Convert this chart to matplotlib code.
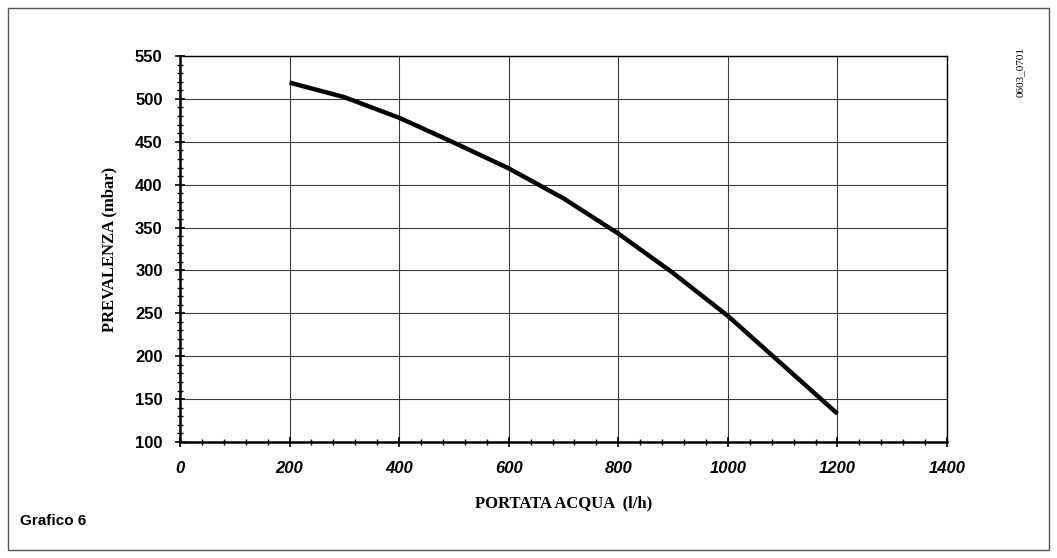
import matplotlib
matplotlib.use("Agg")
import matplotlib.pyplot as plt
from matplotlib.patches import Rectangle
from matplotlib.ticker import MultipleLocator

flow = [200, 300, 400, 500, 600, 700, 800, 900, 1000, 1100, 1200]
head = [519, 502, 478, 449, 419, 384, 343, 297, 247, 190, 133]
x_ticks = [0, 200, 400, 600, 800, 1000, 1200, 1400]
y_ticks = [100, 150, 200, 250, 300, 350, 400, 450, 500, 550]

fig = plt.figure(figsize=(10.57, 5.58), dpi=100)
ax = fig.add_axes([180/1057, 1-442/558, (947-180)/1057, (442-56)/558])

ax.plot(flow, head, color='black', lw=3.2, solid_capstyle='butt', solid_joinstyle='round', zorder=3)
ax.set_xlim(0, 1400)
ax.set_ylim(100, 550)
ax.set_xticks(x_ticks)
ax.set_yticks(y_ticks)
ax.xaxis.set_minor_locator(MultipleLocator(40))
ax.yaxis.set_minor_locator(MultipleLocator(10))
ax.grid(True, which='major', color='#3a3a3a', lw=0.8)
for s in ['left', 'bottom']:
    ax.spines[s].set_linewidth(1.8)
for s in ['top', 'right']:
    ax.spines[s].set_linewidth(1.0)
ax.tick_params(axis='both', which='major', direction='inout', length=7, width=1.2)
ax.tick_params(axis='both', which='minor', direction='inout', length=5, width=1.0)
ax.tick_params(top=False, right=False, which='both')
ax.tick_params(axis='x', pad=10)
ax.tick_params(axis='y', pad=9)
for lbl in ax.get_xticklabels():
    lbl.set_fontfamily('Liberation Sans'); lbl.set_fontweight('bold'); lbl.set_fontstyle('italic'); lbl.set_fontsize(12)
for lbl in ax.get_yticklabels():
    lbl.set_fontfamily('Liberation Sans'); lbl.set_fontweight('bold'); lbl.set_fontsize(12)

ax.set_xlabel('PORTATA ACQUA  (l/h)', fontfamily='Liberation Serif', fontweight='bold', fontsize=12, labelpad=14)
ax.set_ylabel('PREVALENZA (mbar)', fontfamily='Liberation Serif', fontweight='bold', fontsize=12, labelpad=13)

fig.patches.append(Rectangle((8/1057, 8/558), 1041/1057, 542/558, transform=fig.transFigure,
                             fill=False, edgecolor='#555555', lw=1.0))
fig.text(20/1057, 1-521/558, 'Grafico 6', fontfamily='Liberation Sans', fontweight='bold', fontsize=11, va='center')
fig.text(1020/1057, 1-72/558, '0603_0701', fontfamily='Liberation Serif', fontsize=8, rotation=90, va='center', ha='center')

fig.savefig('out.png', dpi=100)
